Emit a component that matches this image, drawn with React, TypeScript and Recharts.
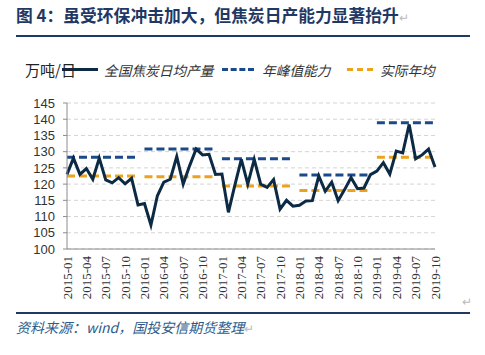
import { LineChart, Line, XAxis, YAxis, CartesianGrid, Legend } from 'recharts'

const years = [2015, 2016, 2017, 2018, 2019]

// 全国焦炭日均产量，万吨/日，2015-01 ~ 2019-10
const dailyOutput = [
  123, 128, 123, 124.8, 121.5, 128, 121.3, 120.4, 122, 120.1, 121.8, 113.6,
  114, 107.4, 116.4, 120.6, 121.5, 128.5, 120, 125.7, 130.8, 129, 129.2, 123,
  123.1, 111.3, 119.7, 127.6, 120, 127.6, 120, 119, 121.4, 112.3, 115, 113.2,
  113.5, 114.8, 114.9, 122.5, 117.8, 120.6, 114.9, 118.3, 122, 118.6, 118.8, 122.9,
  124, 126.6, 123.1, 130.2, 129.6, 138.4, 127.8, 129, 130.8, 125.3,
]

const yearPeak = [128.3, 130.8, 127.8, 122.8, 138.9]
const yearAvg = [122.5, 122.3, 119.4, 118.0, 128.3]

const yTicks = [100, 105, 110, 115, 120, 125, 130, 135, 140, 145]

const months: string[] = []
years.forEach(y => {
  for (let m = 1; m <= 12; m++) months.push(`${y}-${String(m).padStart(2, '0')}`)
})

const data = dailyOutput.map((v, i) => {
  const row: Record<string, string | number> = { month: months[i], output: v }
  const yi = Math.floor(i / 12)
  row[`peak${years[yi]}`] = yearPeak[yi]
  row[`avg${years[yi]}`] = yearAvg[yi]
  return row
})

const NAVY_LINE = '#0D2A44'
const PEAK = '#1B4A8A'
const AVG = '#EDA21C'

const MonthTick = (props: any) => {
  const { x, y, payload } = props
  return (
    <g transform={`translate(${x},${y + 7})`}>
      <text
        transform="rotate(-90)"
        textAnchor="end"
        dy="0.35em"
        fontFamily="'Liberation Serif', serif"
        fontSize={13}
        fill="#333"
      >
        {payload.value}
      </text>
    </g>
  )
}

const legendText: React.CSSProperties = {
  position: 'absolute',
  top: 0,
  fontStyle: 'italic',
  fontSize: 13.7,
  color: '#333',
  lineHeight: '16px',
  whiteSpace: 'nowrap',
}

const ChartLegend = () => (
  <div style={{ position: 'relative', width: 485, height: 16 }}>
    <div style={{ position: 'absolute', left: 62, top: 6, width: 36, height: 3, background: NAVY_LINE }} />
    <span style={{ ...legendText, left: 104 }}>全国焦炭日均产量</span>
    <div style={{ position: 'absolute', left: 222, top: 6, width: 32, borderTop: `3px dashed ${PEAK}` }} />
    <span style={{ ...legendText, left: 262 }}>年峰值能力</span>
    <div style={{ position: 'absolute', left: 347, top: 6, width: 26, borderTop: `3px dashed ${AVG}` }} />
    <span style={{ ...legendText, left: 380 }}>实际年均</span>
  </div>
)

export default function App() {
  return (
    <div
      style={{
        position: 'absolute',
        left: 0,
        top: 0,
        width: 485,
        height: 355,
        background: '#fff',
        overflow: 'hidden',
        fontFamily: "'Noto Sans CJK SC', 'Noto Sans', sans-serif",
      }}
    >
      <div style={{ position: 'absolute', left: 16, top: 4, fontSize: 16.8, fontWeight: 700, color: '#1F3864', whiteSpace: 'nowrap', lineHeight: '22px' }}>
        图 4：虽受环保冲击加大，但焦炭日产能力显著抬升<span style={{ color: '#bbb', fontWeight: 400, fontSize: 12 }}>↵</span>
      </div>
      <div style={{ position: 'absolute', left: 16, top: 35, width: 454, height: 1.5, background: '#1F3864' }} />

      <div style={{ position: 'absolute', left: 0, top: 0 }}>
        <LineChart width={485} height={355} data={data} margin={{ top: 87, right: 50, left: 0, bottom: 54 }}>
          <CartesianGrid vertical={false} stroke="#d4d4d4" strokeDasharray="4 3" />
          <XAxis
            dataKey="month"
            scale="point"
            interval={2}
            height={52}
            tickLine={false}
            tickSize={0}
            tickMargin={0}
            axisLine={{ stroke: '#8c8c8c' }}
            tick={<MonthTick />}
          />
          <YAxis
            width={67}
            domain={[100, 145]}
            ticks={yTicks}
            interval={0}
            tickSize={4}
            tickMargin={8}
            axisLine={{ stroke: '#8c8c8c' }}
            tickLine={{ stroke: '#8c8c8c' }}
            tick={{ fontSize: 13, fill: '#333', fontFamily: "'Liberation Sans', Arial, sans-serif" }}
          />
          <Legend
            verticalAlign="top"
            wrapperStyle={{ top: 62, left: 0, width: 485 }}
            content={() => <ChartLegend />}
          />
          {years.map(y => (
            <Line
              key={`peak${y}`}
              dataKey={`peak${y}`}
              stroke={PEAK}
              strokeWidth={3}
              strokeDasharray="8 4"
              dot={false}
              activeDot={false}
              legendType="none"
              isAnimationActive={false}
            />
          ))}
          {years.map(y => (
            <Line
              key={`avg${y}`}
              dataKey={`avg${y}`}
              stroke={AVG}
              strokeWidth={3}
              strokeDasharray="8 4"
              dot={false}
              activeDot={false}
              legendType="none"
              isAnimationActive={false}
            />
          ))}
          <Line
            dataKey="output"
            name="全国焦炭日均产量"
            stroke={NAVY_LINE}
            strokeWidth={3}
            dot={false}
            activeDot={false}
            isAnimationActive={false}
          />
        </LineChart>
      </div>

      <div style={{ position: 'absolute', left: 25, top: 60, fontSize: 15, color: '#222', lineHeight: '20px', whiteSpace: 'nowrap' }}>
        万吨/日
      </div>
      <div style={{ position: 'absolute', left: 462, top: 292, fontSize: 12, color: '#bbb' }}>↵</div>
      <div style={{ position: 'absolute', left: 16, top: 312, width: 454, height: 1.5, background: '#1F3864' }} />
      <div style={{ position: 'absolute', left: 16, top: 317, fontSize: 14, fontStyle: 'italic', color: '#2E5C8A', lineHeight: '20px', whiteSpace: 'nowrap' }}>
        资料来源：wind，国投安信期货整理<span style={{ color: '#bbb', fontStyle: 'normal', fontSize: 12 }}>↵</span>
      </div>
    </div>
  )
}
